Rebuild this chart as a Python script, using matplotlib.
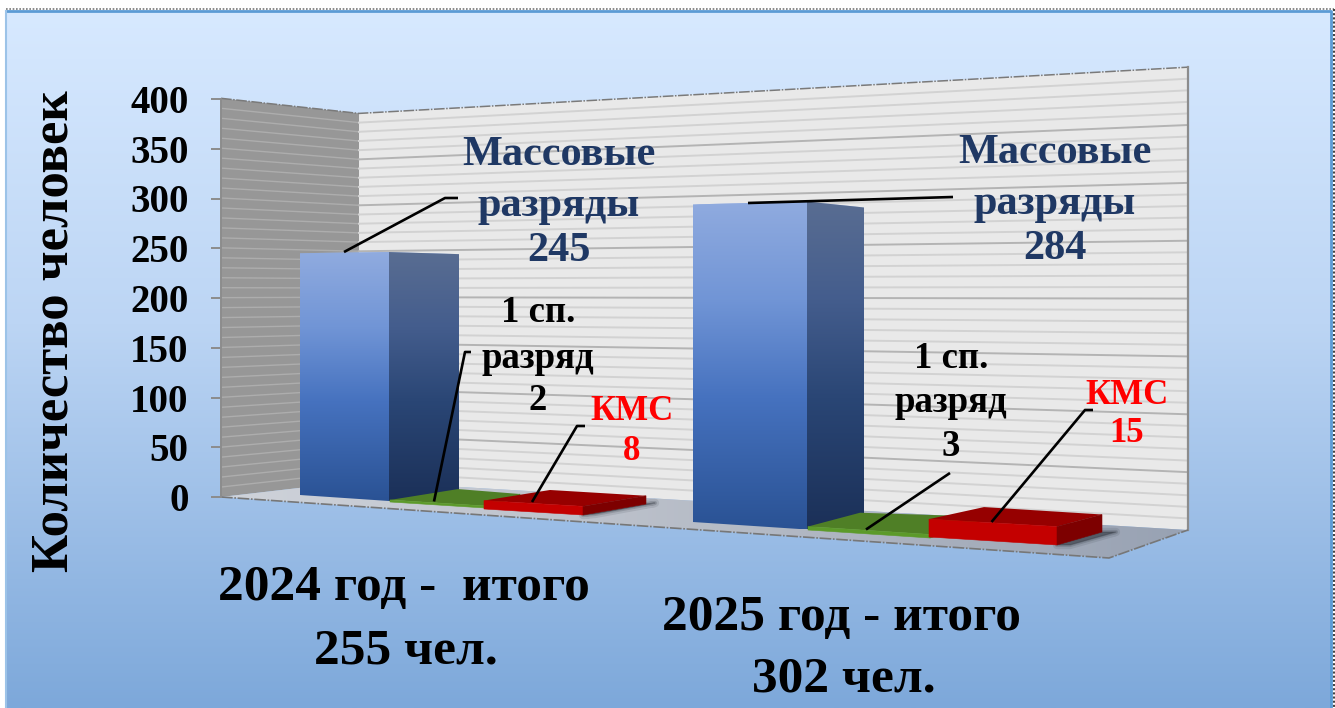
import numpy as np
import matplotlib
matplotlib.use("Agg")
import matplotlib.pyplot as plt
from matplotlib.colors import LinearSegmentedColormap as LSC
from matplotlib.patches import Polygon

# ---- data ----
years = ["2024 год -  итого", "2025 год - итого"]
totals = ["255 чел.", "302 чел."]
mass_values = [245, 284]
first_values = [2, 3]
kms_values = [8, 15]
axis_ticks = [0, 50, 100, 150, 200, 250, 300, 350, 400]
axis_title = "Количество человек"

# ---- layout (pixel space of the slide) ----
W, H = 1335, 708
FOOT_MASS = [[(300, 495), (389, 501), (459, 490), (370, 485)],
             [(693, 522), (807, 529.5), (864, 514), (750, 507)]]
FOOT_FIRST = [[(390, 502), (485, 508), (520, 496), (458, 491)],
              [(808, 530), (930, 538), (985, 520), (860, 516)]]
FOOT_KMS = [[(484, 509), (583, 515), (646, 504), (550, 498)],
            [(929, 537), (1057, 545), (1102, 532), (984, 524)]]
WALL_A, WALL_B, WALL_C, FLOOR_D = (221, 497), (359, 481), (1188, 530), (1109, 558)
SERIF = "Liberation Serif"
NAVY = "#1f3864"


def scale(y):
    """perspective: pixels per unit at floor position y"""
    return 0.987 + 0.00486 * (y - 495)


def raise_pt(p, v):
    return (p[0], p[1] - v * scale(p[1]))


fig = plt.figure(figsize=(W / 100, H / 100), dpi=100, facecolor="white")
ax = fig.add_axes([0, 0, 1, 1])
ax.set_xlim(0, W)
ax.set_ylim(H, 0)
ax.axis("off")


def gradient(poly, stops, vertical=True, z=1):
    pts = np.array(poly, float)
    x0, x1, y0, y1 = pts[:, 0].min(), pts[:, 0].max(), pts[:, 1].min(), pts[:, 1].max()
    t = np.linspace(0, 1, 256)
    arr = t[:, None] if vertical else t[None, :]
    im = ax.imshow(arr, cmap=LSC.from_list("g", stops), extent=(x0, x1, y1, y0),
                   aspect="auto", origin="upper", zorder=z, vmin=0, vmax=1,
                   interpolation="bilinear")
    im.set_clip_path(Polygon(pts, closed=True, transform=ax.transData))
    return im


# panel
panel = [(6, 11), (1331, 11), (1331, 708), (6, 708)]
gradient(panel, [(0, "#d7e9ff"), (0.45, "#bcd5f4"), (1, "#7da8da")], z=0)
ax.plot([6, 1331, 1331], [11, 11, 708], color="#5b9bd5", lw=2, zorder=1)
ax.plot([6, 6], [11, 708], color="#9cc3e8", lw=1.5, zorder=1)
ax.plot([6, 1334], [9, 9], color="#777777", lw=1.2, ls=(0, (1, 1)), zorder=1)
ax.plot([1333.5, 1333.5], [9, 708], color="#444444", lw=1.5, ls=(0, (1, 1)), zorder=1)

# walls, from the axis maximum
top_a, top_b, top_c = (raise_pt(p, axis_ticks[-1]) for p in (WALL_A, WALL_B, WALL_C))
ax.add_patch(Polygon([WALL_A, top_a, top_b, WALL_B], fc="#979797", ec="none", zorder=2))
ax.add_patch(Polygon([WALL_B, top_b, top_c, WALL_C], fc="#e9e9e9", ec="none", zorder=2))

# gridlines: every ten people, heavier at the major ticks
for v in range(10, axis_ticks[-1], 10):
    a, b, c = raise_pt(WALL_A, v), raise_pt(WALL_B, v), raise_pt(WALL_C, v)
    major = v % 50 == 0
    ax.plot([a[0], b[0]], [a[1], b[1]], color="#adadad", lw=1.0, zorder=3)
    ax.plot([b[0], c[0]], [b[1], c[1]], color="#b4b4b4" if major else "#d2d2d2",
            lw=1.4, zorder=3)

ax.plot([top_a[0], top_b[0], top_c[0]], [top_a[1], top_b[1], top_c[1]],
        color="#7a7a7a", lw=1.1, ls=(0, (7, 1, 1, 1)), zorder=4)
ax.plot([WALL_C[0], top_c[0]], [WALL_C[1], top_c[1]], color="#8c8c8c", lw=1.6, zorder=4)

# floor
floor = [WALL_A, FLOOR_D, WALL_C, WALL_B]
gradient(floor, [(0, "#cfd3da"), (0.55, "#b4bac5"), (1, "#98a2b3")], vertical=False, z=4)
ax.plot([WALL_A[0], FLOOR_D[0], WALL_C[0]], [WALL_A[1], FLOOR_D[1], WALL_C[1]],
        color="#777777", lw=1.2, ls=(0, (7, 1, 1, 1)), zorder=5)


def soft_shadow(poly, z):
    for lw, a in ((6, 0.12), (3, 0.2), (1, 0.3)):
        ax.add_patch(Polygon(poly, fc="#30363f", ec="#30363f", lw=lw, alpha=a,
                             joinstyle="round", zorder=z))


soft_shadow([FOOT_KMS[0][1], FOOT_KMS[0][2], (655, 503), (595, 514)], 5)
soft_shadow([FOOT_KMS[1][1], FOOT_KMS[1][2], (1116, 532), (1070, 545)], 5)


def box(foot, value, front, side, top, z):
    fl, fr, br, bl = foot
    tl, tr, tbr, tbl = (raise_pt(p, value) for p in foot)
    ax.add_patch(Polygon([tl, tr, tbr, tbl], fc=top, ec="none", zorder=z))
    for poly, col in (([tl, tr, fr, fl], front), ([tr, tbr, br, fr], side)):
        if isinstance(col, str):
            ax.add_patch(Polygon(poly, fc=col, ec=col, lw=0.4, zorder=z + 0.1))
        else:
            gradient(poly, col, z=z + 0.1)


FRONT_BLUE = [(0, "#90abdf"), (0.3, "#7195d6"), (0.6, "#4672bf"), (1, "#2a5294")]
SIDE_BLUE = [(0, "#596d92"), (0.3, "#445d8d"), (0.6, "#2a4675"), (1, "#1b3058")]

z = 6
for g in range(2):
    box(FOOT_MASS[g], mass_values[g], FRONT_BLUE, SIDE_BLUE, "#a9bde6", z)
    box(FOOT_FIRST[g], first_values[g], "#5c9a2a", "#4c7a22", "#4f7f26", z + 1)
    box(FOOT_KMS[g], kms_values[g], "#c40000", "#7d0000", "#960000", z + 2)
    z += 3

# leader lines
leaders = [
    ([344, 445, 458], [252, 198, 198]),
    ([748, 953], [203, 197]),
    ([434, 465, 471], [501.5, 352, 352]),
    ([532, 577, 585], [502, 426, 426]),
    ([866, 950], [529.5, 473]),
    ([991.5, 1085, 1093], [522, 410, 410]),
]
for xs, ys in leaders:
    ax.plot(xs, ys, color="black", lw=1.9, zorder=20, solid_capstyle="butt")


def label(x, y, s, color, size):
    ax.text(x, y, s, color=color, fontsize=size, family=SERIF, weight="bold",
            ha="center", va="center", zorder=21)


MASS_POS = [(559, [155, 206, 251]), (1055, [153, 204, 249])]
FIRST_POS = [(538, [313, 359, 401]), (951, [358, 403, 447])]
KMS_POS = [(632, [411, 451]), (1127, [396, 434])]
for g in range(2):
    x, ys = MASS_POS[g]
    for y, s in zip(ys, ["Массовые", "разряды", str(mass_values[g])]):
        label(x, y, s, NAVY, 30.4)
    x, ys = FIRST_POS[g]
    for y, s in zip(ys, ["1 сп.", "разряд", str(first_values[g])]):
        label(x, y, s, "black", 26.5)
    x, ys = KMS_POS[g]
    for y, s in zip(ys, ["КМС", str(kms_values[g])]):
        label(x, y, s, "#ff0000", 25)

label(404, 588, years[0], "black", 37)
label(406, 651, totals[0], "black", 37)
label(841, 618, years[1], "black", 37)
label(844, 679, totals[1], "black", 37)

ax.text(55, 331, axis_title, rotation=90, ha="center", va="center", fontsize=38,
        family=SERIF, weight="bold", color="black", zorder=21)

# value axis
ay = fig.add_axes([221 / W, 1 - 497 / H, 0.001, (497 - 99) / H])
ay.patch.set_alpha(0)
ay.set_ylim(axis_ticks[0], axis_ticks[-1])
ay.set_xticks([])
ay.set_yticks(axis_ticks)
ay.set_yticklabels([str(t) for t in axis_ticks], family=SERIF, weight="bold", fontsize=28)
ay.tick_params(axis="y", length=7.2, width=1.4, color="#8c8c8c", pad=16)
for name, sp in ay.spines.items():
    sp.set_visible(name == "left")
ay.spines["left"].set_color("#8c8c8c")
ay.spines["left"].set_linewidth(1.4)

fig.savefig("out.png", dpi=100)
